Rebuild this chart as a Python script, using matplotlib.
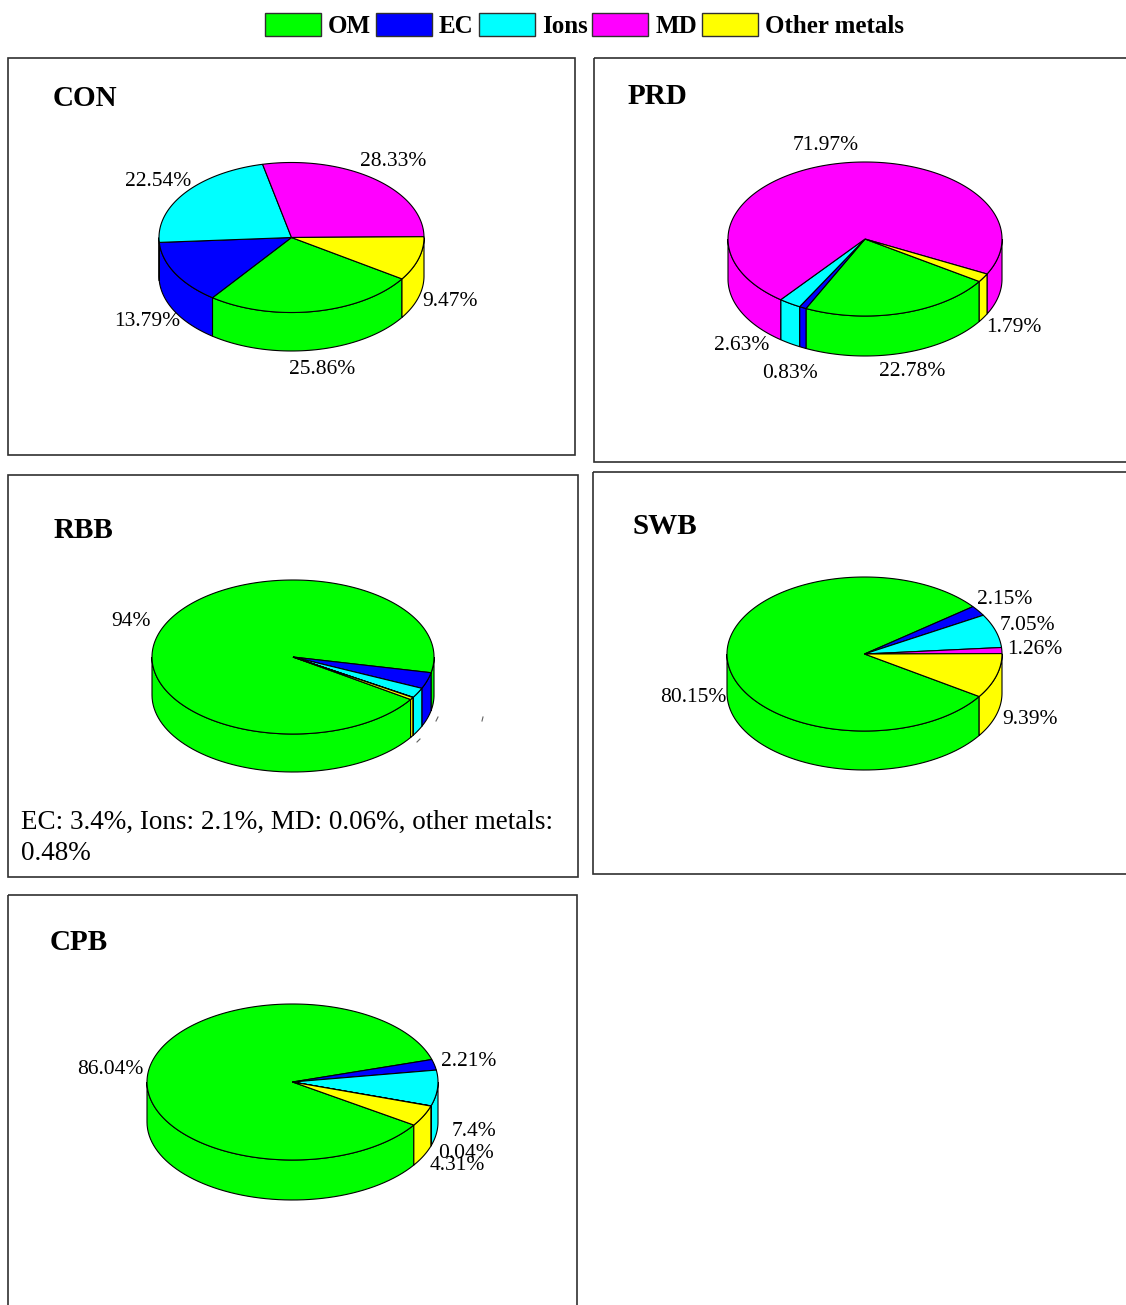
import numpy as np
import matplotlib
matplotlib.use('Agg')
import matplotlib.pyplot as plt
from matplotlib.patches import Polygon, Rectangle, Patch

# composition of PM sources (%), one list per source type
components = ['OM', 'EC', 'Ions', 'MD', 'Other metals']
comp_colors = ['#00ff00', '#0000ff', '#00ffff', '#ff00ff', '#ffff00']

con_vals = [25.86, 13.79, 22.54, 28.33, 9.47]
prd_vals = [22.78, 0.83, 2.63, 71.97, 1.79]
rbb_vals = [94, 3.4, 2.1, 0.06, 0.48]
swb_vals = [80.15, 2.15, 7.05, 1.26, 9.39]
cpb_vals = [86.04, 2.21, 7.4, 0.04, 4.31]

SERIF = 'Liberation Serif'
START = -33.5   # first slice starts here, slices run clockwise
W, H = 1126, 1305

fig = plt.figure(figsize=(W / 100, H / 100), dpi=100)
ax = fig.add_axes([0, 0, 1, 1])
ax.set_xlim(0, W)
ax.set_ylim(H, 0)
ax.axis('off')


def draw_pie(ax, vals, cx, cy, a, b, h):
    total = float(sum(vals))
    spans = []
    t0 = START
    for v in vals:
        t1 = t0 - 360.0 * v / total
        spans.append((t1, t0))
        t0 = t1

    def top(t):
        r = np.radians(t)
        return cx + a * np.cos(r), cy - b * np.sin(r)

    # side walls, only the front half is visible
    for (lo, hi), c in zip(spans, comp_colors):
        for k in range(-2, 2):
            s0 = max(lo, -180 + 360 * k)
            s1 = min(hi, 360 * k)
            if s1 <= s0:
                continue
            ts = np.linspace(s0, s1, 60)
            xs, ys = top(ts)
            pts = np.vstack([np.column_stack([xs, ys]),
                             np.column_stack([xs[::-1], ys[::-1] + h])])
            ax.add_patch(Polygon(pts, closed=True, facecolor=c,
                                 edgecolor='black', lw=0.8, zorder=3))
    # top face
    for (lo, hi), c in zip(spans, comp_colors):
        n = max(3, int((hi - lo) * 2))
        ts = np.linspace(hi, lo, n)
        xs, ys = top(ts)
        pts = np.vstack([[cx, cy], np.column_stack([xs, ys])])
        ax.add_patch(Polygon(pts, closed=True, facecolor=c,
                             edgecolor='black', lw=0.8, zorder=4))


def pct(v):
    return '%g%%' % v


def panel(box, title, title_xy, vals, geom, label_pos):
    x0, y0, x1, y1 = box
    ax.add_patch(Rectangle((x0, y0), x1 - x0, y1 - y0, fill=False,
                           edgecolor='#303030', lw=1.2, zorder=1))
    ax.text(title_xy[0], title_xy[1], title, family=SERIF, weight='bold',
            fontsize=21, ha='left', va='center', zorder=6)
    draw_pie(ax, vals, *geom)
    for i, (lx, ly) in label_pos.items():
        ax.text(lx, ly, pct(vals[i]), family=SERIF, fontsize=15.5,
                ha='center', va='center', zorder=2)


panel((8, 58, 575, 455), 'CON', (53, 98), con_vals,
      (291.5, 237.5, 132.5, 75, 38.5),
      {3: (393, 162), 2: (158, 182), 4: (450, 301), 1: (147, 322), 0: (322, 369)})

panel((594, 58, 1132, 462), 'PRD', (628, 96), prd_vals,
      (865, 239, 137, 77, 40),
      {3: (826, 146), 4: (1014, 327), 2: (742, 346), 1: (790, 374), 0: (912, 372)})

panel((8, 475, 578, 877), 'RBB', (54, 530), rbb_vals,
      (293, 657, 141, 77, 38),
      {0: (131, 621)})
ax.text(21, 822, 'EC: %s, Ions: %s, MD: %s, other metals:' %
        (pct(rbb_vals[1]), pct(rbb_vals[2]), pct(rbb_vals[3])),
        family=SERIF, fontsize=19.5, ha='left', va='center')
ax.text(21, 853, pct(rbb_vals[4]), family=SERIF, fontsize=19.5,
        ha='left', va='center')
# leftover leader-line stubs
for (xa, ya, xb, yb) in [(436, 721, 438, 717), (482, 721, 483, 717), (417, 742, 420, 739)]:
    ax.plot([xa, xb], [ya, yb], color='#606060', lw=0.8, zorder=2)

panel((593, 472, 1132, 874), 'SWB', (632, 527), swb_vals,
      (864.5, 654, 137.5, 77, 39),
      {1: (1005, 600), 2: (1027, 625), 3: (1035, 649), 0: (693, 697), 4: (1030, 719)})

panel((8, 895, 577, 1312), 'CPB', (50, 942), cpb_vals,
      (292.5, 1082, 145.5, 78, 40),
      {0: (110, 1069), 1: (469, 1062), 2: (474, 1131), 3: (466, 1153), 4: (457, 1165)})

handles = [Patch(facecolor=c, edgecolor='#303030', lw=1.0) for c in comp_colors]
fig.legend(handles, components, loc='upper center', ncol=5,
           bbox_to_anchor=(584.5 / W, 1 - 13 / H), frameon=False,
           prop=dict(family=SERIF, weight='bold', size=18),
           handlelength=2.24, handleheight=1.04, handletextpad=0.28,
           columnspacing=0.2, borderpad=0, borderaxespad=0)

fig.savefig('out.png', dpi=100)
